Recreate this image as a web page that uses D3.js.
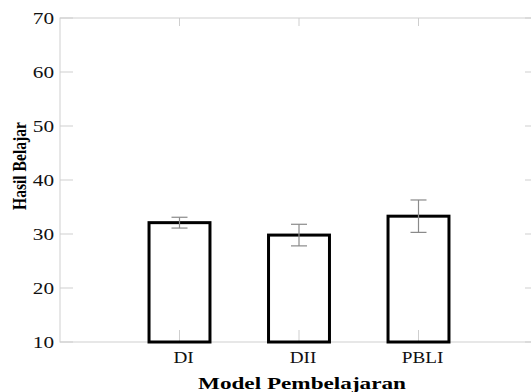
<!DOCTYPE html>
<html>
<head>
<meta charset="utf-8">
<script src="https://cdn.jsdelivr.net/npm/d3@7"></script>
<style>
  body { margin: 0; background: #fff; }
  text { font-family: "Liberation Serif", "Times New Roman", serif; }
</style>
</head>
<body>
<div id="chart"></div>
<script>
var categories = ["DI", "DII", "PBLI"];
var means = [32.1, 29.8, 33.3];
var errors = [1.0, 2.0, 3.0];
var yTicks = [10, 20, 30, 40, 50, 60, 70];

var svgWidth = 531;
var svgHeight = 392;

var margin = { top: 18, right: -7, bottom: 50, left: 60 };
var width = svgWidth - margin.left - margin.right;
var height = svgHeight - margin.top - margin.bottom;

var svg = d3.select("#chart")
  .append("svg")
  .attr("width", svgWidth)
  .attr("height", svgHeight);

var chartGroup = svg.append("g")
  .attr("transform", `translate(${margin.left}, ${margin.top})`);

var xScale = d3.scaleLinear()
  .domain([0, categories.length + 1])
  .range([0, width]);

var yScale = d3.scaleLinear()
  .domain([10, 70])
  .range([height, 0]);

var axisColor = "#cfcfcf";

// frame
chartGroup.append("rect")
  .attr("x", 0).attr("y", 0)
  .attr("width", width).attr("height", height)
  .attr("fill", "none")
  .attr("stroke", axisColor)
  .attr("stroke-width", 1);

// y ticks, left and right, inward
yTicks.forEach(function(t) {
  chartGroup.append("line")
    .attr("x1", 0).attr("x2", 13)
    .attr("y1", yScale(t)).attr("y2", yScale(t))
    .attr("stroke", axisColor);
  chartGroup.append("line")
    .attr("x1", width - 13).attr("x2", width)
    .attr("y1", yScale(t)).attr("y2", yScale(t))
    .attr("stroke", axisColor);
  chartGroup.append("text")
    .attr("transform", `translate(-6, ${yScale(t) + 6}) scale(1.25, 1)`)
    .attr("text-anchor", "end")
    .attr("font-size", "17px")
    .attr("fill", "#111")
    .text(t);
});

// x ticks, bottom and top, inward
categories.forEach(function(c, i) {
  var x = xScale(i + 1);
  chartGroup.append("line")
    .attr("x1", x).attr("x2", x)
    .attr("y1", height).attr("y2", height - 12)
    .attr("stroke", axisColor);
  chartGroup.append("line")
    .attr("x1", x).attr("x2", x)
    .attr("y1", 0).attr("y2", 8)
    .attr("stroke", axisColor);
  chartGroup.append("text")
    .attr("transform", `translate(${x + 4}, ${height + 21}) scale(1.2, 1)`)
    .attr("text-anchor", "middle")
    .attr("font-size", "16px")
    .attr("fill", "#111")
    .text(c);
});

var barW = xScale(0.51) - xScale(0);

// bars
chartGroup.selectAll(".bar")
  .data(means)
  .enter()
  .append("rect")
  .attr("class", "bar")
  .attr("x", (d, i) => xScale(i + 1) - barW / 2)
  .attr("y", d => yScale(d))
  .attr("width", barW)
  .attr("height", d => yScale(10) - yScale(d))
  .attr("fill", "none")
  .attr("stroke", "#000")
  .attr("stroke-width", 3);

// error bars
var capW = 8;
means.forEach(function(m, i) {
  var x = xScale(i + 1);
  var g = chartGroup.append("g")
    .attr("stroke", "#8a8a8a")
    .attr("stroke-width", 1.2);
  g.append("line")
    .attr("x1", x).attr("x2", x)
    .attr("y1", yScale(m + errors[i])).attr("y2", yScale(m - errors[i]));
  g.append("line")
    .attr("x1", x - capW).attr("x2", x + capW)
    .attr("y1", yScale(m + errors[i])).attr("y2", yScale(m + errors[i]));
  g.append("line")
    .attr("x1", x - capW).attr("x2", x + capW)
    .attr("y1", yScale(m - errors[i])).attr("y2", yScale(m - errors[i]));
});

// axis titles
chartGroup.append("text")
  .attr("transform", `translate(-34, 148) rotate(-90)`)
  .attr("text-anchor", "middle")
  .attr("font-size", "19px")
  .attr("font-weight", "bold")
  .attr("textLength", 88)
  .attr("lengthAdjust", "spacingAndGlyphs")
  .attr("fill", "#000")
  .text("Hasil Belajar");

chartGroup.append("text")
  .attr("x", 302 - margin.left)
  .attr("y", height + 47)
  .attr("text-anchor", "middle")
  .attr("font-size", "17px")
  .attr("font-weight", "bold")
  .attr("textLength", 208)
  .attr("lengthAdjust", "spacingAndGlyphs")
  .attr("fill", "#000")
  .text("Model Pembelajaran");
</script>
</body>
</html>
